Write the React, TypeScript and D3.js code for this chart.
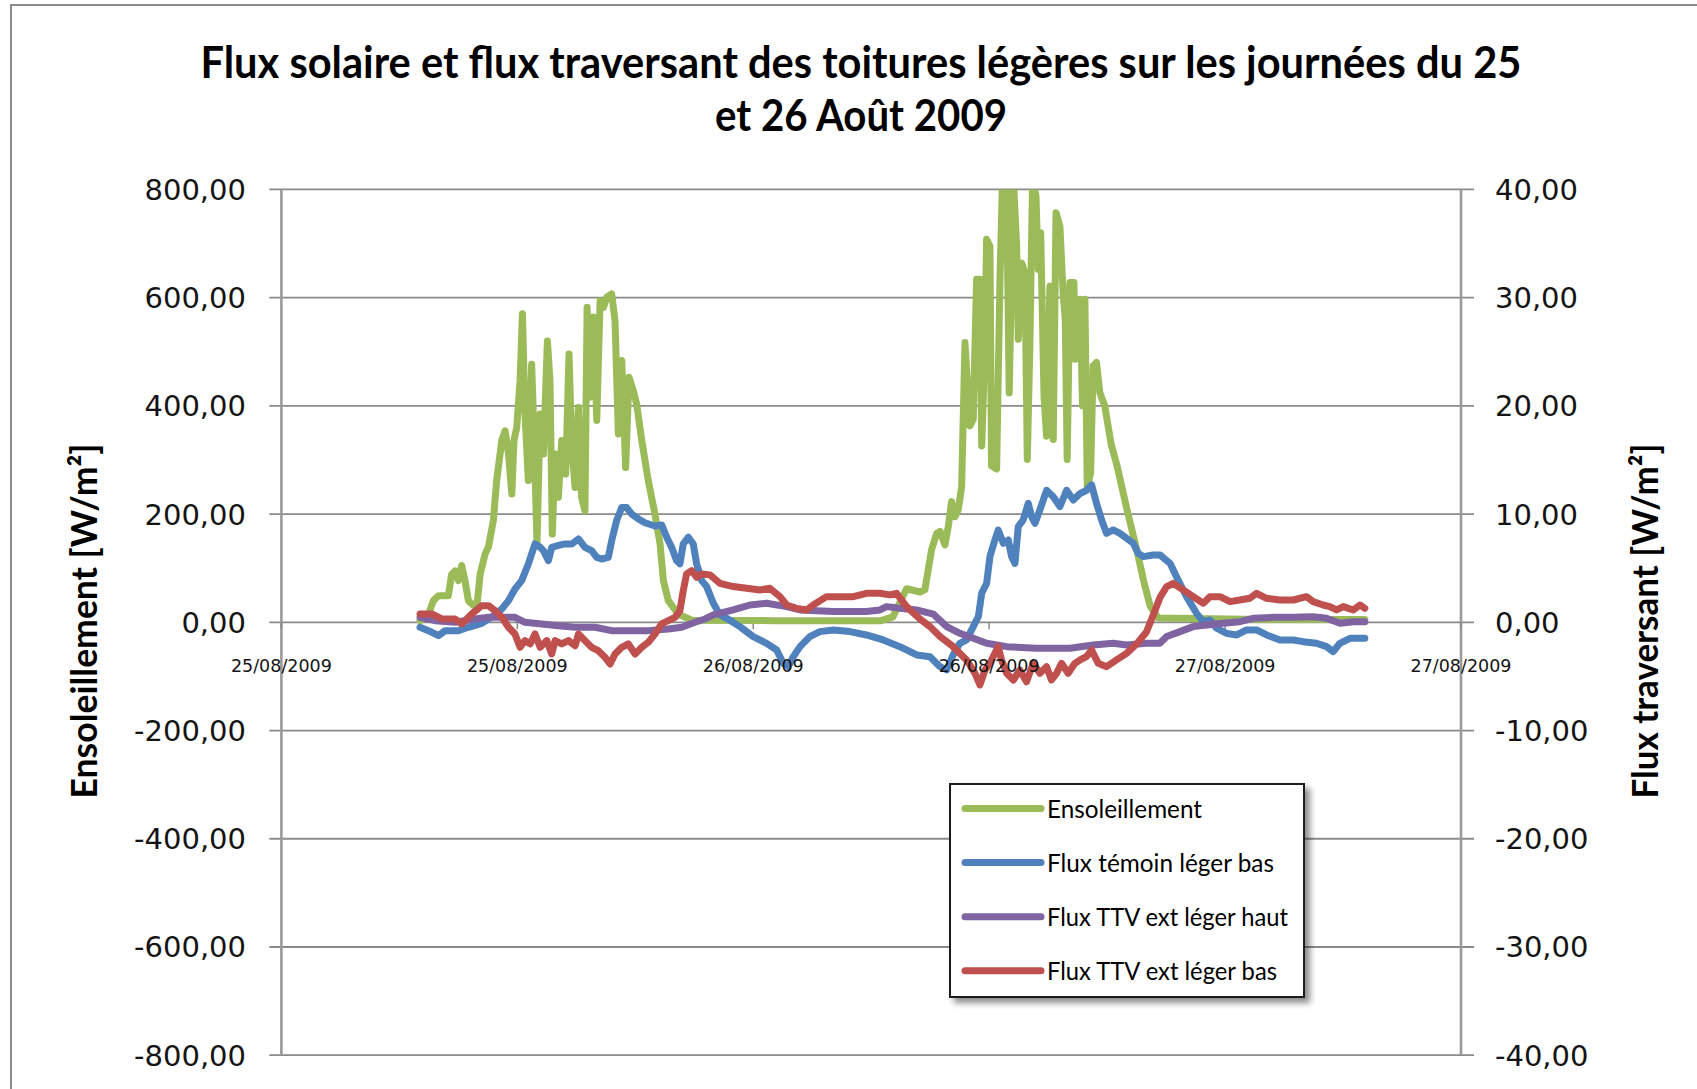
import React, { useEffect, useRef } from "react";
import * as d3 from "d3";

const titleLines = [
  "Flux solaire et flux traversant des toitures légères sur les journées du 25",
  "et 26 Août 2009",
];
const leftAxisTitle = "Ensoleillement [W/m²]";
const rightAxisTitle = "Flux traversant [W/m²]";

const leftTicks = [-800, -600, -400, -200, 0, 200, 400, 600, 800];
const rightTicks = [-40, -30, -20, -10, 0, 10, 20, 30, 40];

const seriesNames = [
  "Ensoleillement",
  "Flux témoin léger bas",
  "Flux TTV ext léger haut",
  "Flux TTV ext léger bas",
];

// [hours since 25/08/2009 00:00, value]
const ensoleillement: [number, number][] = [
  [7.05, 3], [7.48, 15], [7.73, 40], [7.99, 49], [8.49, 49], [8.66, 89], [8.83, 95], [9.0, 77],
  [9.17, 105], [9.34, 77], [9.51, 40], [9.77, 31], [9.94, 28], [10.11, 89], [10.36, 126], [10.53, 139],
  [10.78, 188], [10.95, 262], [11.21, 336], [11.38, 354], [11.55, 311], [11.72, 237], [11.83, 336],
  [11.97, 360], [12.14, 447], [12.26, 570], [12.39, 385], [12.56, 262], [12.73, 477], [12.87, 323],
  [13.0, 145], [13.16, 385], [13.33, 311], [13.53, 520], [13.66, 447], [13.78, 163], [13.92, 311],
  [14.09, 231], [14.26, 336], [14.46, 274], [14.63, 496], [14.77, 323], [14.94, 249], [15.11, 397],
  [15.27, 231], [15.44, 206], [15.55, 582], [15.7, 416], [15.87, 564], [16.04, 373], [16.21, 594],
  [16.38, 582], [16.55, 601], [16.8, 607], [16.97, 557], [17.14, 348], [17.31, 484], [17.51, 286],
  [17.68, 453], [17.9, 428], [18.07, 403], [18.33, 336], [18.66, 262], [19.0, 200], [19.26, 145],
  [19.43, 77], [19.68, 40], [20.19, 15], [20.87, 4], [25.0, 3], [30.5, 3], [31.1, 10], [31.5, 40],
  [31.8, 62], [32.48, 56], [32.73, 60], [33.07, 134], [33.33, 164], [33.5, 168], [33.75, 143],
  [33.92, 177], [34.09, 223], [34.26, 195], [34.43, 208], [34.6, 251], [34.77, 517], [35.02, 363],
  [35.19, 375], [35.36, 634], [35.53, 634], [35.62, 326], [35.79, 510], [35.87, 708], [36.04, 695],
  [36.12, 289], [36.38, 283], [36.55, 634], [36.68, 820], [36.89, 794], [37.02, 424], [37.23, 820],
  [37.4, 695], [37.48, 523], [37.65, 664], [37.82, 646], [37.94, 301], [38.07, 510], [38.21, 820],
  [38.38, 788], [38.5, 652], [38.62, 720], [38.79, 418], [38.92, 344], [39.09, 621], [39.26, 338],
  [39.4, 757], [39.6, 732], [39.77, 603], [39.87, 560], [39.97, 301], [40.11, 628], [40.31, 628],
  [40.38, 486], [40.62, 597], [40.75, 400], [40.87, 597], [40.99, 250], [41.16, 276], [41.29, 474],
  [41.46, 480], [41.63, 424], [41.88, 400], [42.2, 330], [42.5, 290], [43.0, 210], [43.5, 135],
  [43.9, 70], [44.2, 29], [44.6, 8], [50.0, 5], [55.11, 5],
];

const fluxTemoinBas: [number, number][] = [
  [7.05, -0.46], [7.48, -0.77], [7.99, -1.23], [8.33, -0.77], [9.0, -0.77], [9.51, -0.46], [10.19, -0.1],
  [10.7, 0.5], [11.21, 1.23], [11.55, 2.0], [11.88, 3.08], [12.22, 3.85], [12.56, 5.39], [12.9, 7.24],
  [13.16, 6.93], [13.33, 6.62], [13.58, 5.7], [13.75, 6.93], [14.09, 7.1], [14.43, 7.24], [14.77, 7.24],
  [15.11, 7.7], [15.44, 6.93], [15.78, 6.62], [16.04, 6.0], [16.29, 5.85], [16.63, 6.0], [16.8, 7.55],
  [17.05, 9.4], [17.31, 10.6], [17.56, 10.6], [17.82, 10.0], [18.16, 9.55], [18.49, 9.2], [19.0, 8.9],
  [19.34, 9.0], [19.6, 7.86], [19.85, 6.93], [20.1, 5.7], [20.27, 5.4], [20.44, 7.24], [20.7, 7.86],
  [20.95, 7.24], [21.12, 5.4], [21.38, 3.85], [21.63, 3.3], [21.97, 1.76], [22.31, 0.68], [22.65, 0.37],
  [23.32, -0.4], [24.0, -1.32], [24.68, -1.94], [25.19, -2.56], [25.53, -3.79], [25.78, -4.1],
  [26.04, -3.17], [26.38, -2.25], [26.88, -1.32], [27.39, -0.86], [28.07, -0.71], [28.92, -0.86],
  [29.76, -1.17], [30.61, -1.63], [31.46, -2.25], [32.31, -3.02], [32.99, -3.18], [33.5, -4.1],
  [33.84, -4.4], [34.17, -3.0], [34.51, -1.94], [34.85, -1.63], [35.19, -0.4], [35.45, 0.52],
  [35.62, 2.68], [35.87, 3.6], [36.04, 6.07], [36.29, 7.6], [36.46, 8.53], [36.72, 7.3], [36.97, 7.6],
  [37.14, 6.07], [37.31, 5.45], [37.48, 8.84], [37.73, 9.45], [37.99, 11.0], [38.16, 9.76],
  [38.33, 9.15], [38.58, 10.38], [38.92, 12.2], [39.26, 11.6], [39.6, 10.7], [39.94, 12.2],
  [40.28, 11.3], [40.62, 11.9], [40.95, 12.2], [41.21, 12.7], [41.46, 11.0], [41.72, 9.45],
  [41.97, 8.22], [42.31, 8.53], [42.65, 8.22], [42.99, 7.76], [43.33, 7.3], [43.58, 6.38],
  [43.84, 6.07], [44.34, 6.22], [44.69, 6.22], [45.2, 5.45], [45.53, 4.2], [46.04, 2.37],
  [46.55, 0.83], [46.89, 0.06], [47.23, 0.22], [47.57, -0.55], [48.08, -1.02], [48.59, -1.17],
  [49.09, -0.71], [49.6, -0.71], [50.11, -1.17], [50.79, -1.63], [51.47, -1.63], [51.97, -1.79],
  [52.65, -1.94], [53.16, -2.25], [53.5, -2.71], [53.84, -1.94], [54.35, -1.48], [55.11, -1.48],
];

const fluxTTVHaut: [number, number][] = [
  [7.05, 0.46], [7.82, 0.15], [8.83, 0], [9.85, 0.31], [10.53, 0.46], [11.21, 0.46], [11.88, 0.46],
  [12.39, 0], [13.24, -0.15], [14.09, -0.31], [14.94, -0.46], [15.95, -0.46], [16.8, -0.77],
  [17.82, -0.77], [18.66, -0.77], [19.68, -0.62], [20.36, -0.46], [21.04, 0], [21.55, 0.31],
  [21.97, 0.68], [22.98, 1.14], [23.83, 1.6], [24.68, 1.76], [25.7, 1.45], [26.38, 1.14], [28.07, 0.99],
  [29.76, 0.99], [30.44, 1.14], [30.78, 1.45], [31.46, 1.3], [32.31, 1.14], [33.16, 0.75],
  [33.84, -0.4], [34.51, -1.02], [35.19, -1.48], [35.87, -1.94], [36.89, -2.25], [38.41, -2.4],
  [40.11, -2.4], [41.29, -2.1], [42.31, -1.94], [42.99, -2.1], [44.0, -1.94], [44.68, -1.94],
  [45.03, -1.32], [45.7, -0.86], [46.38, -0.4], [47.06, -0.25], [47.9, -0.09], [48.75, 0.06],
  [49.43, 0.37], [50.45, 0.46], [51.47, 0.46], [52.48, 0.52], [53.16, 0.37], [53.84, -0.09],
  [54.52, 0.06], [55.11, 0.06],
];

const fluxTTVBas: [number, number][] = [
  [7.05, 0.77], [7.65, 0.77], [8.16, 0.31], [8.83, 0.31], [9.17, -0.15], [9.68, 0.77], [10.19, 1.54],
  [10.53, 1.54], [10.87, 1.08], [11.21, 0.46], [11.55, -0.46], [11.88, -1.08], [12.14, -2.31],
  [12.39, -1.69], [12.65, -2.0], [12.9, -1.08], [13.16, -2.31], [13.5, -1.69], [13.75, -2.93],
  [13.92, -1.69], [14.26, -2.0], [14.6, -1.69], [14.94, -2.16], [15.11, -1.08], [15.44, -1.69],
  [15.78, -2.31], [16.12, -2.62], [16.46, -3.23], [16.72, -3.85], [16.97, -2.93], [17.31, -2.31],
  [17.65, -2.0], [17.99, -2.93], [18.33, -2.31], [18.66, -1.85], [19.0, -1.08], [19.34, -0.15],
  [19.68, 0.15], [20.02, 0.46], [20.27, 1.08], [20.44, 2.93], [20.61, 4.47], [20.87, 4.78],
  [21.12, 4.16], [21.38, 4.47], [21.8, 4.38], [22.31, 3.6], [22.98, 3.3], [23.66, 3.14], [24.34, 2.99],
  [24.85, 3.14], [25.36, 2.37], [25.7, 1.6], [26.2, 1.29], [26.71, 1.14], [27.05, 1.6], [27.73, 2.37],
  [28.41, 2.37], [29.09, 2.37], [29.76, 2.68], [30.44, 2.68], [30.95, 2.53], [31.29, 2.68],
  [31.8, 1.45], [32.48, 0.3], [32.99, -0.4], [33.5, -1.32], [34.17, -2.25], [34.85, -3.48],
  [35.28, -4.71], [35.53, -5.79], [35.79, -4.4], [36.04, -3.79], [36.29, -2.87], [36.46, -2.25],
  [36.63, -3.48], [36.89, -4.71], [37.23, -5.33], [37.56, -4.4], [37.9, -5.49], [38.24, -3.79],
  [38.58, -4.71], [38.92, -4.1], [39.17, -5.33], [39.43, -4.71], [39.68, -3.79], [40.02, -4.71],
  [40.36, -3.79], [40.62, -3.48], [40.95, -3.18], [41.21, -2.56], [41.55, -3.79], [41.97, -4.1],
  [42.48, -3.48], [42.99, -2.87], [43.5, -2.0], [44.0, -0.9], [44.35, 0.7], [44.69, 2.3], [45.03, 3.3],
  [45.36, 3.6], [45.87, 2.99], [46.38, 2.37], [46.89, 1.76], [47.23, 2.37], [47.74, 2.37],
  [48.25, 1.91], [48.75, 2.06], [49.26, 2.22], [49.6, 2.68], [50.11, 2.22], [50.79, 2.06],
  [51.47, 2.06], [52.14, 2.37], [52.48, 1.91], [52.99, 1.6], [53.33, 1.45], [53.67, 1.14],
  [54.01, 1.45], [54.52, 1.14], [54.86, 1.6], [55.11, 1.29],
];

const startDate = Date.UTC(2009, 7, 25, 0, 0);
const endDate = Date.UTC(2009, 7, 27, 12, 0);

function App() {
  const ref = useRef<SVGSVGElement>(null);

  const W = 1697;
  const H = 1089;
  const plot = { left: 281.4, right: 1461, top: 189.4, bottom: 1055.2 };

  useEffect(() => {
    const svg = d3.select(ref.current);
    svg.selectAll("*").remove();

    const toDate = (h: number) => new Date(startDate + h * 3600000);

    const x = d3.scaleUtc().domain([new Date(startDate), new Date(endDate)]).range([plot.left, plot.right]);
    const yL = d3.scaleLinear().domain([-800, 800]).range([plot.bottom, plot.top]);
    const yR = d3.scaleLinear().domain([-40, 40]).range([plot.bottom, plot.top]);

    const locale = d3.formatLocale({ decimal: ",", thousands: " ", grouping: [3], currency: ["", " €"], minus: "-" });
    const fmt = locale.format(".2f");
    const dateFmt = d3.utcFormat("%d/%m/%Y");

    const tickFont = "'DejaVu Sans', Verdana, sans-serif";
    const labelFont = "Lato, 'Open Sans', sans-serif";
    const textColor = "#141414";
    const gridColor = "#8a8a8a";

    svg.append("rect").attr("width", W).attr("height", H).attr("fill", "#fff");

    // outer chart border
    svg.append("rect")
      .attr("x", 11).attr("y", 5).attr("width", W + 20).attr("height", H + 20)
      .attr("fill", "none").attr("stroke", "#8c8c8c").attr("stroke-width", 2);

    // title
    titleLines.forEach((t, i) => {
      svg.append("text")
        .attr("x", 861).attr("y", i === 0 ? 78 : 131)
        .attr("text-anchor", "middle")
        .attr("textLength", i === 0 ? 1321 : 292)
        .attr("lengthAdjust", "spacingAndGlyphs")
        .style("font-family", labelFont).style("font-weight", 700).style("font-size", "43px")
        .style("fill", "#000")
        .text(t);
    });

    // gridlines + outer ticks
    const grid = svg.append("g");
    leftTicks.forEach((t) => {
      grid.append("line")
        .attr("x1", plot.left - 12).attr("x2", plot.right + 13)
        .attr("y1", yL(t)).attr("y2", yL(t))
        .attr("stroke", gridColor).attr("stroke-width", 1.8);
    });

    // vertical axis lines
    [plot.left, plot.right].forEach((px) => {
      grid.append("line")
        .attr("x1", px).attr("x2", px).attr("y1", plot.top).attr("y2", plot.bottom)
        .attr("stroke", "#9a9a9a").attr("stroke-width", 2.6);
    });

    // x ticks on the zero line
    const xTicks = x.ticks(d3.utcHour.every(12) as d3.TimeInterval);
    xTicks.forEach((d) => {
      grid.append("line")
        .attr("x1", x(d)).attr("x2", x(d)).attr("y1", yL(0)).attr("y2", yL(0) + 7)
        .attr("stroke", gridColor).attr("stroke-width", 1.5);
    });

    // left tick labels
    svg.append("g").selectAll("text").data(leftTicks).enter().append("text")
      .attr("x", 246).attr("y", (d) => yL(d)).attr("dy", "0.36em")
      .attr("text-anchor", "end")
      .style("font-family", tickFont).style("font-size", "29px").style("fill", textColor)
      .text((d) => fmt(d));

    // right tick labels
    svg.append("g").selectAll("text").data(rightTicks).enter().append("text")
      .attr("x", 1495).attr("y", (d) => yR(d)).attr("dy", "0.36em")
      .attr("text-anchor", "start")
      .style("font-family", tickFont).style("font-size", "29px").style("fill", textColor)
      .text((d) => fmt(d));

    // axis titles
    svg.append("text")
      .attr("transform", `translate(84, 621) rotate(-90)`)
      .attr("text-anchor", "middle").attr("dy", "0.35em")
      .attr("textLength", 355).attr("lengthAdjust", "spacingAndGlyphs")
      .style("font-family", labelFont).style("font-weight", 700).style("font-size", "36px").style("fill", "#000")
      .text(leftAxisTitle);

    svg.append("text")
      .attr("transform", `translate(1645, 621) rotate(-90)`)
      .attr("text-anchor", "middle").attr("dy", "0.35em")
      .attr("textLength", 355).attr("lengthAdjust", "spacingAndGlyphs")
      .style("font-family", labelFont).style("font-weight", 700).style("font-size", "36px").style("fill", "#000")
      .text(rightAxisTitle);

    // series
    const defs = svg.append("defs");
    defs.append("clipPath").attr("id", "plot-clip")
      .append("rect")
      .attr("x", plot.left).attr("y", plot.top)
      .attr("width", plot.right - plot.left).attr("height", plot.bottom - plot.top);

    const colors = ["#9bbb59", "#4f81bd", "#8064a2", "#c0504d"];
    const series = [
      { data: ensoleillement, y: yL },
      { data: fluxTemoinBas, y: yR },
      { data: fluxTTVHaut, y: yR },
      { data: fluxTTVBas, y: yR },
    ];

    const lines = svg.append("g").attr("clip-path", "url(#plot-clip)");
    series.forEach((s, i) => {
      const line = d3.line<[number, number]>()
        .x((d) => x(toDate(d[0])))
        .y((d) => s.y(d[1]));
      lines.append("path")
        .attr("d", line(s.data))
        .attr("fill", "none")
        .attr("stroke", colors[i])
        .attr("stroke-width", 7)
        .attr("stroke-linejoin", "round")
        .attr("stroke-linecap", "round");
    });

    // x axis date labels (drawn above the lines)
    svg.append("g").selectAll("text").data(xTicks).enter().append("text")
      .attr("x", (d) => x(d)).attr("y", 666).attr("dy", "0.36em")
      .attr("text-anchor", "middle")
      .style("font-family", tickFont).style("font-size", "17.5px").style("fill", textColor)
      .text((d) => dateFmt(d));

    // legend
    const filter = defs.append("filter").attr("id", "legend-shadow")
      .attr("x", "-10%").attr("y", "-10%").attr("width", "130%").attr("height", "130%");
    filter.append("feDropShadow")
      .attr("dx", 5).attr("dy", 5).attr("stdDeviation", 3)
      .attr("flood-color", "#000").attr("flood-opacity", 0.45);

    const lg = svg.append("g").attr("transform", "translate(950, 784)");
    lg.append("rect")
      .attr("width", 354).attr("height", 213)
      .attr("fill", "#fff").attr("stroke", "#1a1a1a").attr("stroke-width", 2)
      .attr("filter", "url(#legend-shadow)");

    const legendLengths = [155, 227, 241, 230];
    seriesNames.forEach((name, i) => {
      const cy = 24.5 + i * 54.1;
      lg.append("line")
        .attr("x1", 15).attr("x2", 91).attr("y1", cy).attr("y2", cy)
        .attr("stroke", colors[i]).attr("stroke-width", 7).attr("stroke-linecap", "round");
      lg.append("text")
        .attr("x", 97).attr("y", cy + 9)
        .attr("textLength", legendLengths[i]).attr("lengthAdjust", "spacingAndGlyphs")
        .style("font-family", labelFont).style("font-size", "25px").style("fill", "#000")
        .text(name);
    });
  }, []);

  return (
    <svg
      ref={ref}
      width={W}
      height={H}
      style={{ position: "fixed", left: 0, top: 0, display: "block" }}
    />
  );
}

export default App;
